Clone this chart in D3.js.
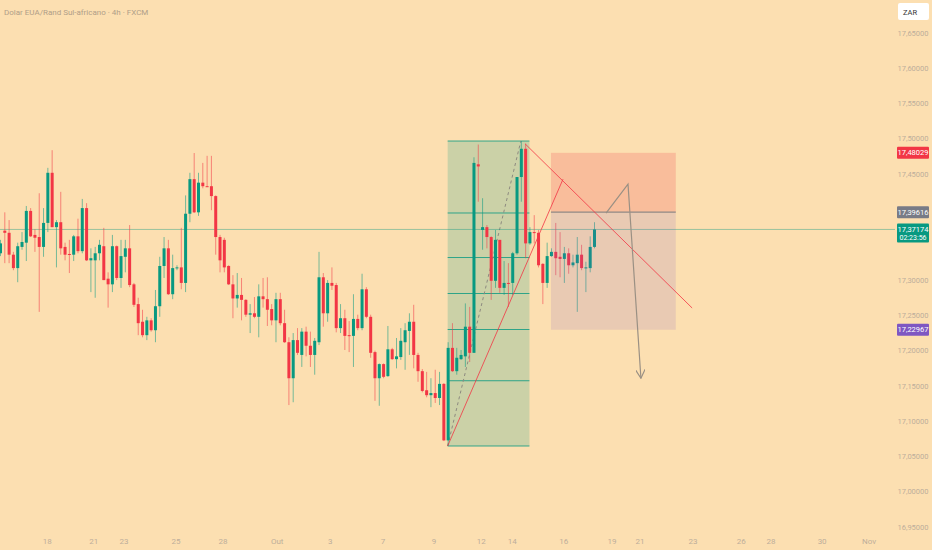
<!DOCTYPE html>
<html>
<head>
<meta charset="utf-8">
<script src="https://cdn.jsdelivr.net/npm/d3@7"></script>
<style>
  html, body { margin: 0; padding: 0; background: #fcdfb1; }
  svg { display: block; }
</style>
</head>
<body>
<div class="vis"></div>
<script>
// 4h candles, [open, high, low, close]
const bars = [
  [17.338,17.357,17.334,17.352],[17.370,17.396,17.324,17.367],[17.367,17.385,17.324,17.336],[17.336,17.340,17.314,17.317],
  [17.317,17.353,17.297,17.348],[17.347,17.368,17.343,17.354],[17.353,17.405,17.327,17.398],[17.398,17.402,17.361,17.362],
  [17.364,17.372,17.340,17.360],[17.361,17.423,17.255,17.347],[17.347,17.402,17.333,17.381],[17.381,17.459,17.368,17.452],
  [17.452,17.484,17.375,17.375],[17.375,17.385,17.318,17.382],[17.382,17.425,17.336,17.345],[17.347,17.353,17.328,17.336],
  [17.337,17.357,17.310,17.336],[17.336,17.364,17.327,17.362],[17.362,17.387,17.338,17.341],[17.341,17.415,17.338,17.402],
  [17.402,17.409,17.327,17.328],[17.328,17.345,17.283,17.331],[17.328,17.347,17.275,17.338],[17.338,17.357,17.328,17.350],
  [17.348,17.374,17.300,17.300],[17.302,17.311,17.261,17.294],[17.294,17.364,17.283,17.348],[17.348,17.349,17.300,17.303],
  [17.303,17.357,17.289,17.334],[17.333,17.357,17.311,17.345],[17.345,17.378,17.290,17.293],[17.294,17.296,17.262,17.265],
  [17.266,17.275,17.222,17.239],[17.241,17.258,17.219,17.222],[17.222,17.248,17.215,17.243],[17.243,17.246,17.227,17.229],
  [17.229,17.286,17.212,17.263],[17.263,17.333,17.248,17.320],[17.320,17.361,17.303,17.345],[17.345,17.357,17.279,17.280],
  [17.280,17.336,17.273,17.317],[17.317,17.321,17.314,17.318],[17.318,17.374,17.287,17.296],[17.296,17.420,17.283,17.394],
  [17.394,17.452,17.382,17.443],[17.443,17.480,17.395,17.396],[17.396,17.452,17.391,17.438],[17.438,17.466,17.430,17.433],
  [17.433,17.476,17.432,17.432],[17.433,17.476,17.399,17.419],[17.419,17.420,17.336,17.361],[17.361,17.364,17.311,17.328],
  [17.357,17.360,17.311,17.318],[17.320,17.321,17.293,17.294],[17.294,17.307,17.246,17.274],[17.274,17.310,17.261,17.279],
  [17.279,17.303,17.243,17.272],[17.272,17.273,17.248,17.251],[17.251,17.266,17.225,17.253],[17.253,17.276,17.246,17.248],
  [17.248,17.294,17.219,17.277],[17.277,17.303,17.261,17.273],[17.273,17.304,17.235,17.258],[17.259,17.266,17.236,17.243],
  [17.243,17.282,17.212,17.273],[17.273,17.282,17.236,17.239],[17.239,17.258,17.211,17.212],[17.212,17.219,17.123,17.161],
  [17.161,17.225,17.127,17.215],[17.215,17.232,17.194,17.197],[17.194,17.232,17.177,17.227],[17.227,17.234,17.192,17.207],
  [17.207,17.227,17.177,17.194],[17.194,17.218,17.166,17.214],[17.212,17.340,17.208,17.304],[17.304,17.310,17.234,17.253],
  [17.253,17.300,17.241,17.296],[17.296,17.318,17.286,17.292],[17.293,17.296,17.226,17.232],[17.232,17.266,17.225,17.246],
  [17.246,17.258,17.201,17.221],[17.222,17.242,17.198,17.221],[17.221,17.280,17.177,17.245],[17.245,17.251,17.229,17.232],
  [17.232,17.309,17.229,17.287],[17.287,17.290,17.246,17.248],[17.248,17.251,17.190,17.197],[17.198,17.200,17.129,17.161],
  [17.161,17.182,17.122,17.181],[17.181,17.182,17.161,17.163],[17.164,17.235,17.163,17.202],[17.202,17.204,17.187,17.188],
  [17.188,17.218,17.175,17.192],[17.191,17.232,17.187,17.214],[17.212,17.239,17.173,17.229],[17.228,17.253,17.194,17.241],
  [17.241,17.265,17.175,17.194],[17.194,17.197,17.156,17.171],[17.171,17.174,17.141,17.143],[17.144,17.170,17.134,17.137],
  [17.137,17.161,17.120,17.140],[17.140,17.173,17.126,17.133],[17.133,17.170,17.123,17.153],[17.153,17.154,17.072,17.073],
  [17.073,17.212,17.065,17.204],[17.204,17.239,17.170,17.171],[17.171,17.204,17.166,17.190],[17.188,17.201,17.187,17.194],
  [17.192,17.267,17.177,17.234],[17.234,17.262,17.184,17.197],[17.197,17.474,17.197,17.466],[17.464,17.492,17.411,17.461],
  [17.371,17.416,17.343,17.375],[17.375,17.378,17.345,17.361],[17.361,17.362,17.272,17.299],[17.299,17.371,17.289,17.357],
  [17.357,17.357,17.282,17.289],[17.289,17.327,17.279,17.296],[17.296,17.324,17.262,17.295],[17.296,17.340,17.279,17.338],
  [17.338,17.446,17.336,17.446],[17.446,17.497,17.411,17.486],[17.486,17.493,17.331,17.352],[17.352,17.375,17.350,17.368],
  [17.368,17.392,17.352,17.367],[17.367,17.371,17.318,17.321],[17.323,17.324,17.266,17.296],[17.296,17.353,17.289,17.334],
  [17.334,17.345,17.333,17.340],[17.340,17.381,17.307,17.331],[17.333,17.368,17.304,17.330],[17.330,17.347,17.296,17.338],
  [17.338,17.345,17.309,17.321],[17.321,17.336,17.318,17.325],[17.324,17.361,17.255,17.336],[17.336,17.350,17.314,17.317],
  [17.317,17.326,17.283,17.318],[17.317,17.362,17.311,17.347],[17.347,17.382,17.345,17.37174]
];

// time axis: bar index of each label
const timeTickIdx = [11, 21.8, 28.8, 40.9, 51.8, 64.4, 76.7, 89, 100.8, 111.8, 119, 131, 142.2, 148.7, 161, 172.2, 179.1, 191, 201.9];
const timeTickLabels = ["18", "21", "23", "25", "28", "Out", "3", "7", "9", "12", "14", "16", "19", "21", "23", "26", "28", "30", "Nov"];

const priceTicks = [17.65, 17.60, 17.55, 17.50, 17.45, 17.40, 17.35, 17.30, 17.25, 17.20, 17.15, 17.10, 17.05, 17.00, 16.95];

// drawings
const fibLevels = [0, 0.236, 0.382, 0.5, 0.618, 0.786, 1];
const fibAnchor = {fromBar: 104, toBar: 121, boxEnd: 123, low: 17.065, high: 17.497};
const position = {fromBar: 128, toBar: 157, entry: 17.39616, stop: 17.48029, target: 17.22967};
const redLines = [
  [[122, 17.493], [160.8, 17.2605]],
  [[104, 17.065], [130.8, 17.443]]
];
const arrowPath = [[140.8, 17.395], [145.9, 17.436], [148.9, 17.161]];
const lastPrice = 17.37174, countdown = "02:23:56";

const width = 932, height = 550;
const up = "#089981", down = "#f23645";
const fontAxis = "'Liberation Sans Narrow', Roboto, sans-serif";

const x = d3.scaleLinear().domain([0, 138]).range([0, 594]);
const y = d3.scaleLinear().domain([16.95, 17.65]).range([527.2, 33]);
const fmt = v => d3.format(".5f")(v).replace(".", ",");

let svg = d3.select(".vis")
    .append("svg")
    .attr("width", width)
    .attr("height", height)
    .style("background", "#fcdfb1")

// title
svg.append("text")
    .attr("x", 4)
    .attr("y", 12)
    .text("Dolar EUA/Rand Sul-africano · 4h · FXCM")
    .style("font-size", "8px")
    .style("font-family", fontAxis)
    .style("fill", "#b09e88")
    .style("dominant-baseline", "central")

// fib box
let fib = svg.append("g").attr("id", "fib")
const fibY = l => y(fibAnchor.high - l * (fibAnchor.high - fibAnchor.low));
fib.append("rect")
    .attr("x", x(fibAnchor.fromBar))
    .attr("y", y(fibAnchor.high))
    .attr("width", x(fibAnchor.boxEnd) - x(fibAnchor.fromBar))
    .attr("height", y(fibAnchor.low) - y(fibAnchor.high))
    .style("fill", up)
    .style("fill-opacity", 0.2)
fib.selectAll("line.lvl")
    .data(fibLevels)
    .enter().append("line")
    .attr("class", "lvl")
    .attr("x1", x(fibAnchor.fromBar))
    .attr("x2", x(fibAnchor.boxEnd))
    .attr("y1", d => fibY(d))
    .attr("y2", d => fibY(d))
    .style("stroke", up)
    .style("stroke-opacity", 0.8)
    .style("stroke-width", 1)

// last price line
svg.append("line")
    .attr("x1", 0).attr("x2", 895)
    .attr("y1", y(lastPrice)).attr("y2", y(lastPrice))
    .style("stroke", up)
    .style("stroke-opacity", 0.4)
    .style("stroke-width", 1)

// candles
let candles = svg.append("g").attr("id", "candles")
    .selectAll("g")
    .data(bars)
    .enter().append("g")

candles.append("line")
    .attr("x1", (d, i) => x(i) + 0.5)
    .attr("x2", (d, i) => x(i) + 0.5)
    .attr("y1", d => y(d[1]))
    .attr("y2", d => y(d[2]))
    .style("stroke", d => d[3] >= d[0] ? up : down)
    .style("stroke-opacity", 0.55)
    .style("stroke-width", 1)

candles.append("rect")
    .attr("x", (d, i) => x(i) - 1)
    .attr("y", d => y(Math.max(d[0], d[3])))
    .attr("width", 3)
    .attr("height", d => Math.max(1, Math.abs(y(d[0]) - y(d[3]))))
    .style("fill", d => d[3] >= d[0] ? up : down)

// fib trend line (dashed)
fib.append("line")
    .attr("x1", x(fibAnchor.fromBar)).attr("y1", y(fibAnchor.low))
    .attr("x2", x(fibAnchor.toBar)).attr("y2", y(fibAnchor.high))
    .style("stroke", "#8d8a80")
    .style("stroke-width", 1)
    .style("stroke-dasharray", "3,3")

// short position tool
let pos = svg.append("g").attr("id", "position")
pos.append("rect")
    .attr("x", x(position.fromBar)).attr("y", y(position.stop))
    .attr("width", x(position.toBar) - x(position.fromBar))
    .attr("height", y(position.entry) - y(position.stop))
    .style("fill", down).style("fill-opacity", 0.2)
pos.append("rect")
    .attr("x", x(position.fromBar)).attr("y", y(position.entry))
    .attr("width", x(position.toBar) - x(position.fromBar))
    .attr("height", y(position.target) - y(position.entry))
    .style("fill", "#7e57c2").style("fill-opacity", 0.15)
pos.append("line")
    .attr("x1", x(position.fromBar)).attr("x2", x(position.toBar))
    .attr("y1", y(position.entry)).attr("y2", y(position.entry))
    .style("stroke", "#8f8a86").style("stroke-width", 1.2)

// red trend lines
svg.selectAll("line.trend")
    .data(redLines)
    .enter().append("line")
    .attr("class", "trend")
    .attr("x1", d => x(d[0][0])).attr("y1", d => y(d[0][1]))
    .attr("x2", d => x(d[1][0])).attr("y2", d => y(d[1][1]))
    .style("stroke", down)
    .style("stroke-opacity", 0.8)
    .style("stroke-width", 1)

// projected path arrow
svg.append("defs").append("marker")
    .attr("id", "arrow")
    .attr("viewBox", "0 0 10 10")
    .attr("refX", 9).attr("refY", 5)
    .attr("markerWidth", 8).attr("markerHeight", 8)
    .attr("orient", "auto")
    .append("path")
    .attr("d", "M0,0 L9,5 L0,10")
    .style("fill", "none")
    .style("stroke", "#9a9084")
    .style("stroke-width", 1.2)

svg.append("path")
    .attr("d", d3.line().x(d => x(d[0])).y(d => y(d[1]))(arrowPath))
    .style("fill", "none")
    .style("stroke", "#9a9084")
    .style("stroke-width", 1.2)
    .attr("marker-end", "url(#arrow)")

// price axis, ticks hidden where a price label sits
const labelled = [position.stop, position.entry, lastPrice, position.target];
let axisR = svg.append("g").attr("id", "priceAxis")
axisR.selectAll("text")
    .data(priceTicks.filter(t => labelled.every(v => Math.abs(y(t) - y(v) - (v === lastPrice ? 4 : 0)) > (v === lastPrice ? 14 : 10))))
    .enter().append("text")
    .attr("x", 913)
    .attr("y", d => y(d))
    .text(d => fmt(d))
    .style("font-size", "7.5px")
    .style("font-family", fontAxis)
    .style("fill", "#bcae9b")
    .style("text-anchor", "middle")
    .style("dominant-baseline", "central")

function priceLabel(v, color, extra) {
    let g = axisR.append("g")
    let h = extra ? 19 : 12
    g.append("rect")
        .attr("x", 897).attr("y", y(v) - 6)
        .attr("width", 32).attr("height", h)
        .attr("rx", 1)
        .style("fill", color)
    g.append("text")
        .attr("x", 913).attr("y", y(v))
        .text(fmt(v))
        .style("font-size", "7.5px")
        .style("font-family", fontAxis)
        .style("fill", "#ffffff")
        .style("text-anchor", "middle")
        .style("dominant-baseline", "central")
    if (extra) {
        g.append("text")
            .attr("x", 913).attr("y", y(v) + 9)
            .text(extra)
            .style("font-size", "7px")
            .style("font-family", fontAxis)
            .style("fill", "#ffffff")
            .style("text-anchor", "middle")
            .style("dominant-baseline", "central")
    }
}
priceLabel(position.stop, down)
priceLabel(position.entry, "#787b86")
priceLabel(lastPrice, up, countdown)
priceLabel(position.target, "#7e57c2")

// currency box
svg.append("rect")
    .attr("x", 898).attr("y", 3)
    .attr("width", 31).attr("height", 17)
    .attr("rx", 2)
    .style("fill", "#ffffff")
svg.append("text")
    .attr("x", 903).attr("y", 12)
    .text("ZAR")
    .style("font-size", "7.5px")
    .style("font-family", fontAxis)
    .style("fill", "#333333")
    .style("dominant-baseline", "central")

// time axis
svg.append("g").attr("id", "timeAxis")
    .selectAll("text")
    .data(timeTickIdx)
    .enter().append("text")
    .attr("x", d => x(d))
    .attr("y", 541)
    .text((d, i) => timeTickLabels[i])
    .style("font-size", "8px")
    .style("font-family", fontAxis)
    .style("fill", "#bcae9b")
    .style("text-anchor", "middle")
    .style("dominant-baseline", "central")
</script>
</body>
</html>
